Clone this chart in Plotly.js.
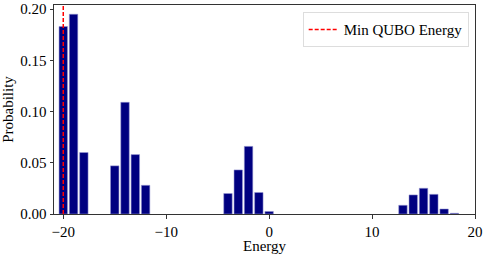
<!DOCTYPE html>
<html><head><meta charset="utf-8">
<script src="https://cdn.plot.ly/plotly-3.0.1.min.js"></script>
<style>html,body{margin:0;padding:0;background:#fff}#c{width:488px;height:254px}</style>
</head><body><div id="c"></div>
<script>
const energies = [-20,-19,-18,-15,-14,-13,-12,-4,-3,-2,-1,0,13,14,15,16,17,18];
const probabilities = [0.183,0.195,0.060,0.047,0.109,0.058,0.028,0.020,0.043,0.066,0.021,0.0025,0.0085,0.0186,0.0251,0.0192,0.0049,0.0007];
const minQuboEnergy = -20;
const xTicks = [-20,-10,0,10,20];
const yTicks = [0,0.05,0.10,0.15,0.20];
const yTop = 0.204;

const font = {family:'Times New Roman, Liberation Serif, Times, serif', size:15, color:'#000'};
const traces = [
  {type:'bar', x:energies, y:probabilities, width:0.82,
   marker:{color:'#000080', line:{color:'rgba(150,150,210,0.9)', width:0.6}},
   showlegend:false, hoverinfo:'x+y'},
  {type:'scatter', mode:'lines', x:[minQuboEnergy,minQuboEnergy], y:[0,yTop],
   line:{color:'#ff0000', dash:'4px,2px', width:1.5}, name:'Min QUBO Energy'}
];
const layout = {
  width:488, height:254,
  margin:{l:54, r:13, t:5, b:40},
  paper_bgcolor:'#fff', plot_bgcolor:'#fff',
  font:font,
  bargap:0,
  xaxis:{range:[-20.9,20], tickvals:xTicks, ticks:'outside', ticklen:3.5, tickcolor:'#333',
         showgrid:false, zeroline:false, showline:true, linecolor:'#333', linewidth:1, mirror:true,
         title:{text:'Energy', font:font, standoff:3}, tickfont:font},
  yaxis:{range:[0,yTop], tickvals:yTicks, tickformat:'.2f', ticks:'outside', ticklen:3.5, tickcolor:'#333',
         showgrid:false, zeroline:false, showline:true, linecolor:'#333', linewidth:1, mirror:true,
         title:{text:'Probability', font:font, standoff:4}, tickfont:font},
  legend:{x:0.985, y:0.965, xanchor:'right', yanchor:'top', bgcolor:'#fff',
          bordercolor:'#ddd', borderwidth:1, font:font}
};
Plotly.newPlot('c', traces, layout, {staticPlot:true, displayModeBar:false});
</script></body></html>
